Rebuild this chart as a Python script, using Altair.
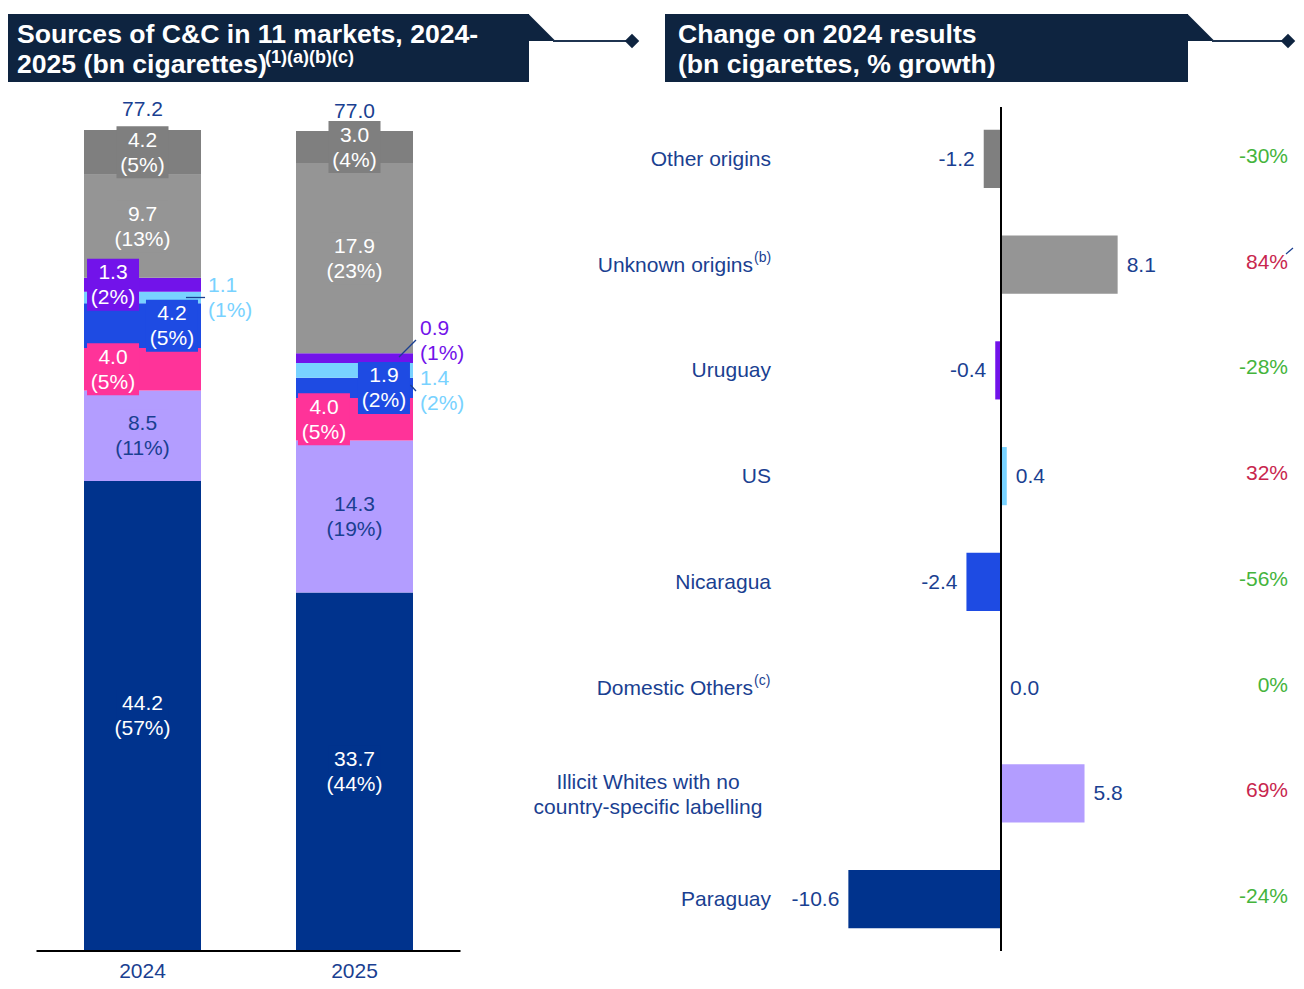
import altair as alt
import pandas as pd

FONT = "Liberation Sans"
NAVY_TXT = "#1A3F91"
TITLE_BG = "#0E2440"
GREEN = "#45B43C"
RED = "#C8264E"

# ---------------- data ----------------
years = ["2024", "2025"]
# stacking order, bottom to top
categories = ["Paraguay", "Illicit Whites", "Domestic Others", "Nicaragua",
              "US", "Uruguay", "Unknown origins", "Other origins"]
vals_2024 = [44.2, 8.5, 4.0, 4.2, 1.1, 1.3, 9.7, 4.2]
vals_2025 = [33.7, 14.3, 4.0, 1.9, 1.4, 0.9, 17.9, 3.0]
pct_2024 = [57, 11, 5, 5, 1, 2, 13, 5]
pct_2025 = [44, 19, 5, 2, 2, 1, 23, 4]
totals = [77.2, 77.0]

# right panel, top to bottom
change_cats = ["Other origins", "Unknown origins", "Uruguay", "US", "Nicaragua",
               "Domestic Others", "Illicit Whites", "Paraguay"]
change_vals = [-1.2, 8.1, -0.4, 0.4, -2.4, 0.0, 5.8, -10.6]
growth_pct = [-30, 84, -28, 32, -56, 0, 69, -24]
display_names = ["Other origins", "Unknown origins", "Uruguay", "US", "Nicaragua",
                 "Domestic Others", "Illicit Whites with no\ncountry-specific labelling",
                 "Paraguay"]
name_sups = ["", "(b)", "", "", "", "(c)", "", ""]

# ---------------- styles ----------------
colors_map = {
    "Paraguay": "#00338D", "Illicit Whites": "#B39DFF", "Domestic Others": "#FF3399",
    "Nicaragua": "#1E4BE3", "US": "#78D2FF", "Uruguay": "#7213EA",
    "Unknown origins": "#959595", "Other origins": "#7F7F7F",
}
PX_X = 212.0          # px per x unit (left)
PX_Y = 821.0 / 77.2   # px per bn (left)
HALF_BAR = 58.5 / PX_X
BOX_HW = 26 / PX_X
BOX_HH = 26 / PX_Y
LH = 25

# label layout (x offset in bar units, y offset in bn, kind)
layout = {
    (0, "Domestic Others"): (-0.139, 0, "in"),
    (0, "Nicaragua"): (0.139, 0, "in"),
    (0, "US"): (0.309, 0, "out"),
    (0, "Uruguay"): (-0.139, 0, "in"),
    (1, "Domestic Others"): (-0.144, 0, "in"),
    (1, "Nicaragua"): (0.139, 0, "in"),
    (1, "US"): (0.309, -1.94, "out"),
    (1, "Uruguay"): (0.309, 1.7, "out"),
}

rows = []
for yi, (vals, pcts) in enumerate([(vals_2024, pct_2024), (vals_2025, pct_2025)]):
    cum = 0.0
    for c, v, p in zip(categories, vals, pcts):
        y0, y1 = cum, cum + v
        cum = y1
        dx, dy, kind = layout.get((yi, c), (0, 0, "in"))
        lx, ly = yi + dx, (y0 + y1) / 2 + dy
        if kind == "out":
            tcol = colors_map[c]
        elif c == "Illicit Whites":
            tcol = NAVY_TXT
        else:
            tcol = "#FFFFFF"
        rows.append(dict(year=years[yi], xi=yi, x0=yi - HALF_BAR, x1=yi + HALF_BAR,
                         y0=y0, y1=y1, cat=c, bcolor=colors_map[c],
                         label=f"{v:.1f}\n({p}%)", lx=lx, ly=ly, kind=kind, tcolor=tcol,
                         bx0=lx - BOX_HW, bx1=lx + BOX_HW, by0=ly - BOX_HH, by1=ly + BOX_HH))
left = pd.DataFrame(rows)

tot_df = pd.DataFrame(dict(xi=[0, 1], year=years, total=totals,
                           tlabel=[f"{t:.1f}" for t in totals]))
axis_df = pd.DataFrame(dict(xa=[-0.5], xb=[1.5], y=[0.0]))
leaders = pd.DataFrame(dict(lx0=[0.205, 1.21, 1.264], ly0=[61.45, 55.85, 53.22],
                            lx1=[0.295, 1.29, 1.29], ly1=[61.45, 57.45, 52.66]))

lx_scale = alt.Scale(domain=[-0.5, 1.5], range=[28.5, 452.5], nice=False, zero=False)
ly_scale = alt.Scale(domain=[0, 77.2], range=[943, 122], nice=False, zero=False)

def LX(f):
    return alt.X(f, type="quantitative", scale=lx_scale, axis=None)

def LY(f):
    return alt.Y(f, type="quantitative", scale=ly_scale, axis=None)

base_l = alt.Chart(left)
l_bars = base_l.mark_rect().encode(
    x=LX("x0"), x2="x1", y=LY("y0"), y2="y1",
    fill=alt.Fill("bcolor:N", scale=None))
l_boxes = base_l.mark_rect().transform_filter(alt.datum.kind == "in").encode(
    x=LX("bx0"), x2="bx1", y=LY("by0"), y2="by1",
    fill=alt.Fill("bcolor:N", scale=None))
l_text_in = base_l.mark_text(align="center", baseline="middle", lineBreak="\n",
                             lineHeight=LH, fontSize=21, font=FONT, dy=-11.5).transform_filter(
    alt.datum.kind == "in").encode(
    x=LX("lx"), y=LY("ly"), text="label:N", fill=alt.Fill("tcolor:N", scale=None))
l_text_out = base_l.mark_text(align="left", baseline="middle", lineBreak="\n",
                              lineHeight=LH, fontSize=21, font=FONT, dy=-11.5).transform_filter(
    alt.datum.kind == "out").encode(
    x=LX("lx"), y=LY("ly"), text="label:N", fill=alt.Fill("tcolor:N", scale=None))
l_lead = alt.Chart(leaders).mark_rule(color=NAVY_TXT, strokeWidth=1.3).encode(
    x=LX("lx0"), x2="lx1", y=LY("ly0"), y2="ly1")
l_axis = alt.Chart(axis_df).mark_rule(color="#000000", strokeWidth=2).encode(
    x=LX("xa"), x2="xb", y=LY("y"))
l_tot = alt.Chart(tot_df).mark_text(baseline="middle", fontSize=21, font=FONT,
                                    color=NAVY_TXT, dy=-20).encode(
    x=LX("xi"), y=LY("total"), text="tlabel:N")
l_years = alt.Chart(tot_df).mark_text(baseline="middle", fontSize=21, font=FONT,
                                      color=NAVY_TXT).encode(
    x=LX("xi"), y=alt.value(964), text="year:N")

left_layer = alt.layer(l_bars, l_boxes, l_text_in, l_text_out, l_lead, l_axis, l_tot, l_years)

# ---------------- right panel ----------------
right = pd.DataFrame(dict(
    cat=change_cats, change=change_vals, zero=[0.0] * len(change_cats),
    vlabel=[f"{v:.1f}" for v in change_vals],
    plabel=[f"{g}%" for g in growth_pct],
    pcolor=[RED if g > 0 else GREEN for g in growth_pct],
    bcolor=[colors_map[c] for c in change_cats],
    name=display_names, sup=name_sups,
    kind=["multi" if "\n" in n else ("sup" if s else "plain")
          for n, s in zip(display_names, name_sups)],
))
rx_scale = alt.Scale(domain=[-12, 10], range=[820.2, 1137], nice=False, zero=False)
ry_scale = alt.Scale(domain=change_cats, range=[98, 944], paddingInner=0.45, paddingOuter=0.225)

def RX(f):
    return alt.X(f, type="quantitative", scale=rx_scale, axis=None)

RY = alt.Y("cat:N", scale=ry_scale, axis=None, sort=change_cats)

base_r = alt.Chart(right)
r_bars = base_r.mark_bar().encode(x=RX("change"), x2="zero", y=RY,
                                  fill=alt.Fill("bcolor:N", scale=None))
r_zero = alt.Chart(pd.DataFrame(dict(zero=[0.0]))).mark_rule(color="#000000", strokeWidth=2).encode(
    x=RX("zero"), y=alt.value(99), y2=alt.value(943))
r_vpos = base_r.mark_text(align="left", baseline="middle", fontSize=21, font=FONT,
                          color=NAVY_TXT, dx=9, dy=1).transform_filter(alt.datum.change >= 0).encode(
    x=RX("change"), y=RY, text="vlabel:N")
r_vneg = base_r.mark_text(align="right", baseline="middle", fontSize=21, font=FONT,
                          color=NAVY_TXT, dx=-9, dy=1).transform_filter(alt.datum.change < 0).encode(
    x=RX("change"), y=RY, text="vlabel:N")
r_pct = base_r.mark_text(align="right", baseline="middle", fontSize=21, font=FONT, dy=-2).encode(
    x=alt.value(1280), y=RY, text="plabel:N", fill=alt.Fill("pcolor:N", scale=None))
r_name_plain = base_r.mark_text(align="right", baseline="middle", fontSize=21, font=FONT,
                                color=NAVY_TXT, dy=1).transform_filter(alt.datum.kind == "plain").encode(
    x=alt.value(763), y=RY, text="name:N")
r_name_sup = base_r.mark_text(align="right", baseline="middle", fontSize=21, font=FONT,
                              color=NAVY_TXT, dy=1).transform_filter(alt.datum.kind == "sup").encode(
    x=alt.value(745), y=RY, text="name:N")
r_sup = base_r.mark_text(align="left", baseline="middle", fontSize=14, font=FONT,
                         color=NAVY_TXT, dy=-7).transform_filter(alt.datum.kind == "sup").encode(
    x=alt.value(746), y=RY, text="sup:N")
r_name_multi = base_r.mark_text(align="center", baseline="middle", fontSize=21, font=FONT,
                                color=NAVY_TXT, lineBreak="\n", lineHeight=LH, dy=-10.5).transform_filter(
    alt.datum.kind == "multi").encode(x=alt.value(640), y=RY, text="name:N")
r_tick = alt.Chart(pd.DataFrame(dict(k=[0]))).mark_rule(color=NAVY_TXT, strokeWidth=1.2).encode(
    x=alt.value(1278), x2=alt.value(1285), y=alt.value(246), y2=alt.value(240))

right_layer = alt.layer(r_bars, r_zero, r_vpos, r_vneg, r_pct, r_name_plain,
                        r_name_sup, r_sup, r_name_multi, r_tick)

# ---------------- title decorations ----------------
one = pd.DataFrame(dict(k=[0]))
TRI = "M-1,-1L1,1L-1,1Z"

def title_block(x0, x1, indent, lines, diamond_x, sup=None, sup_x=None):
    parts = [
        alt.Chart(one).mark_rect(color=TITLE_BG).encode(
            x=alt.value(x0), x2=alt.value(x1), y=alt.value(6), y2=alt.value(74)),
        alt.Chart(one).mark_point(shape=TRI, filled=True, opacity=1, color=TITLE_BG,
                                  size=27 * 27, strokeWidth=0).encode(
            x=alt.value(x1 + 13), y=alt.value(19.5)),
        alt.Chart(one).mark_rule(color="#1F3450", strokeWidth=2).encode(
            x=alt.value(x1 + 24), x2=alt.value(diamond_x - 4), y=alt.value(33)),
        alt.Chart(one).mark_point(shape="diamond", filled=True, opacity=1, color=TITLE_BG,
                                  size=210, strokeWidth=0).encode(
            x=alt.value(diamond_x), y=alt.value(33)),
    ]
    for i, t in enumerate(lines):
        parts.append(alt.Chart(one).mark_text(text=t, align="left", baseline="middle",
                                              fontSize=26.6, fontWeight="bold", font=FONT,
                                              color="#FFFFFF").encode(
            x=alt.value(x0 + indent), y=alt.value(27 + 30 * i)))
    if sup:
        parts.append(alt.Chart(one).mark_text(text=sup, align="left", baseline="middle",
                                              fontSize=18, fontWeight="bold", font=FONT,
                                              color="#FFFFFF").encode(
            x=alt.value(sup_x), y=alt.value(50)))
    return parts

deco = (title_block(0, 521, 9, ["Sources of C&C in 11 markets, 2024-", "2025 (bn cigarettes)"],
                    624, sup="(1)(a)(b)(c)", sup_x=257)
        + title_block(657, 1180, 13, ["Change on 2024 results", "(bn cigarettes, % growth)"], 1280))

chart = alt.layer(left_layer, right_layer, *deco).resolve_scale(
    x="independent", y="independent"
).properties(
    width=1288, height=973, padding=0,
    autosize=alt.AutoSizeParams(type="none"),
).configure_view(stroke=None)

chart.save("out.html", embed_options={"renderer": "svg", "actions": False})
